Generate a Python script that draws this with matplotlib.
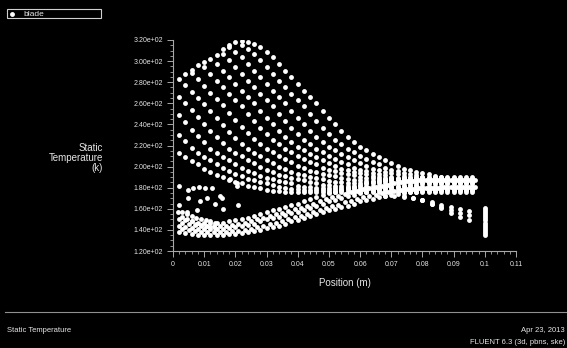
import numpy as np
import matplotlib
matplotlib.use("Agg")
import matplotlib.pyplot as plt
from matplotlib.lines import Line2D
from matplotlib.patches import Rectangle
from matplotlib.ticker import MultipleLocator, AutoMinorLocator, FuncFormatter

plt.rcParams['font.family'] = ['Liberation Sans', 'DejaVu Sans']

# chordwise node positions (m)
x_nodes = [0.002, 0.004, 0.006, 0.008, 0.010, 0.012, 0.014, 0.016, 0.018, 0.020, 0.022, 0.024,
           0.026, 0.028, 0.030, 0.032, 0.034, 0.036, 0.038, 0.040, 0.042, 0.044, 0.046, 0.048,
           0.050, 0.052, 0.054, 0.056, 0.058, 0.060, 0.062, 0.064, 0.066, 0.068, 0.070, 0.072,
           0.074, 0.076, 0.078, 0.080, 0.082, 0.084, 0.086, 0.088, 0.090, 0.092, 0.094, 0.096]
x_mid = [0.003, 0.005, 0.007, 0.009, 0.011, 0.013, 0.015, 0.017, 0.019, 0.021, 0.023, 0.025,
         0.027, 0.029, 0.031, 0.033, 0.035, 0.037, 0.039, 0.041, 0.043, 0.045, 0.047, 0.049,
         0.051, 0.053, 0.055, 0.057, 0.059, 0.061, 0.063, 0.065, 0.067, 0.069, 0.071, 0.073,
         0.075, 0.077, 0.079, 0.081, 0.083, 0.085, 0.087, 0.089, 0.091, 0.093, 0.095, 0.097]
N = None

# hot side of the blade: static temperature (K), one list per span station
hot_0 = [283, 288, 292, 296, 299, 302, 306, 311, 315, 318, 319, 318, 316, 313, 309, 304, 297, 291,
         285, 278, 272, 266, 260, 253, 246, 240, 234, 228, 223, 219, 216, 212, 209, 206, 203, 201,
         198, 197, 195, 194, 193, 191, 190, 189, 189, 188, 188, 188]
hot_1 = [N, N, N, N, N, N, N, N, N, N, 315, 311, 307, 301, 294, 288, 281, 275, 269, 263, 257, 250,
         243, 237, 231, 225, 221, 217, 214, 210, 207, 204, 202, 199, 197, 196, 194, 193, 192, 190,
         189, 189, 188, 188, 188, 188, 188, 188]
hot_2 = [N, N, N, N, N, N, N, N, 313, 309, 304, 297, 291, 285, 278, 272, 266, 260, 253, 246, 240,
         234, 228, 223, 219, 216, 212, 209, 206, 203, 201, 198, 197, 195, 194, 193, 191, 190, 189,
         189, 188, 188, 188, 188, 188, 188, 188, 188]
hot_3 = [N, N, N, N, N, N, N, 307, 301, 294, 288, 281, 275, 269, 263, 257, 250, 243, 237, 231, 225,
         221, 217, 214, 210, 207, 204, 202, 199, 197, 196, 194, 193, 192, 190, 189, 189, 188, 188,
         188, 188, 188, 188, 188, 188, 188, 188, 188]
hot_4 = [N, N, N, N, N, N, 297, 291, 285, 278, 272, 266, 260, 253, 246, 240, 234, 228, 223, 219,
         216, 212, 209, 206, 203, 201, 198, 197, 195, 194, 193, 191, 190, 189, 189, 188, 188, 188,
         188, 188, 188, 188, 188, 188, 188, 188, 188, 188]
hot_5 = [N, N, N, N, 294, 288, 281, 275, 269, 263, 257, 250, 243, 237, 231, 225, 221, 217, 214, 210,
         207, 204, 202, 199, 197, 196, 194, 193, 192, 190, 189, 189, 188, 188, 188, 188, 188, 188,
         188, 188, 188, 188, 188, 188, 188, 188, 188, 188]
hot_6 = [N, N, 289, 283, 276, 270, 264, 258, 251, 244, 238, 232, 226, 221, 217, 214, 210, 207, 204,
         201, 199, 196, 195, 193, 192, 191, 189, 188, 187, 187, 186, 186, 186, 186, 186, 186, 186,
         186, 186, 186, 186, 186, 186, 186, 186, 186, 186, 186]
hot_7 = [N, 277, 271, 265, 259, 253, 246, 239, 233, 227, 221, 217, 213, 210, 206, 203, 200, 198, 195,
         193, 192, 190, 189, 188, 186, 185, 185, 184, 184, 184, 184, 184, 184, 184, 184, 184, 184,
         184, 184, 184, 184, 184, 184, 184, 184, 184, 184, 184]
hot_8 = [266, 260, 254, 247, 240, 234, 228, 222, 217, 213, 210, 206, 203, 200, 197, 195, 192, 191,
         189, 188, 187, 185, 184, 183, 183, 182, 182, 182, 182, 182, 182, 182, 182, 182, 182, 182,
         182, 182, 182, 182, 182, 182, 182, 182, 182, 182, 182, 182]
hot_9 = [249, 242, 235, 229, 223, 217, 213, 209, 206, 202, 199, 196, 194, 191, 189, 188, 186, 185,
         184, 182, 181, 181, 180, 180, 180, 180, 180, 180, 180, 180, 180, 180, 180, 180, 180, 180,
         180, 180, 180, 180, 180, 180, 180, 180, 180, 180, 180, 180]
hot_10 = [230, 224, 218, 213, 209, 206, 202, 199, 196, 193, 191, 188, 187, 185, 184, 183, 181, 180,
          179, 179, 178, 178, 178, 178, 178, 178, 178, 178, 178, 178, 178, 178, 178, 178, 178, 178,
          178, 178, 178, 178, 178, 178, 178, 178, 178, 178, 178, 178]
hot_11 = [213, 209, 205, 202, 198, 195, 192, 190, 187, 185, 184, 182, 181, 180, 178, 177, 177, 176,
          176, 176, 176, 176, 176, 176, 176, 176, 176, 176, 176, 176, 176, 176, 176, 176, 176, 176,
          176, 176, 176, 176, 176, 176, 176, 176, 176, 176, 176, 176]

# cold side of the blade (dense band), top to bottom
cold_1 = [150, 149, 148, 147, 147, 147, 147, 147, 148, 149, 150, 151, 153, 155, 157, 159, 160, 162,
          164, 165, 167, 169, 171, 173, 175, 176, 178, 180, 181, 183, 184, 185, 186, 187, 188, 188,
          189, 189, 190, 190, 190, 190, 190, 190, 190, 190, 190, 190]
cold_2 = [147, 146, 145, 144, 144, 144, 144, 144, 145, 146, 147, 148, 150, 151, 153, 155, 156, 158,
          160, 161, 163, 165, 167, 169, 171, 172, 174, 176, 177, 179, 180, 181, 182, 183, 184, 185,
          186, 186, 187, 187, 187, 187, 187, 187, 187, 187, 187, 187]
cold_3 = [144, 143, 142, 141, 141, 141, 141, 141, 142, 143, 144, 145, 146, 148, 150, 151, 152, 154,
          156, 157, 159, 161, 163, 165, 167, 168, 170, 172, 173, 175, 176, 177, 179, 180, 181, 181,
          182, 183, 183, 184, 184, 184, 184, 184, 184, 184, 184, 184]
cold_4 = [141, 140, 139, 138, 138, 138, 138, 138, 139, 139, 140, 141, 143, 144, 146, 147, 148, 150,
          152, 153, 155, 157, 159, 161, 163, 164, 166, 167, 169, 171, 172, 173, 175, 176, 177, 178,
          179, 179, 180, 180, 180, 180, 181, 181, 181, 181, 181, 181]
cold_5 = [138, 137, 136, 135, 135, 135, 135, 135, 136, 136, 137, 138, 139, 140, 142, 143, 144, 146,
          148, 149, 151, 153, 155, 157, 159, 160, 162, 163, 165, 167, 168, 169, 171, 172, 173, 174,
          175, 176, 176, 177, 177, 177, 178, 178, 178, 178, 178, 178]

# trailing-edge rows dropping below the band
tail_x = [0.068, 0.071, 0.074, 0.077, 0.080, 0.083, 0.086, 0.089, 0.092, 0.095]
tail_1 = [172, 172, 171, 170, 168, 166, 164, 162, 160, 158]
tail_2 = [N, N, 172, 170, 168, 165, 162, 159, 156, 154]
tail_3 = [N, N, N, N, 168, 165, 161, 156, 152, 149]

# leading-edge curves
le_x = [0.003, 0.0045, 0.006, 0.0075, 0.009, 0.0105, 0.012, 0.0135]
le_1 = [157, 155, 153, 151, 150, 149, 148, 147]
le_2 = [152, 150, 148, 146, 145, 144, 143, 142]

# loose nodes near the leading edge
loose_x = [0.0020, 0.0020, 0.0049, 0.0065, 0.0084, 0.0103, 0.0124, 0.0049, 0.0087, 0.0110,
           0.0135, 0.0151, 0.0156, 0.0183, 0.0204, 0.0206, 0.0209, 0.0044, 0.0076, 0.0161,
           0.0017]
loose_t = [182, 164, 178, 180, 181, 180, 180, 170, 167, 170,
           165, 172, 170, 188, 184, 182, 164, 157, 159, 160,
           157]

# trailing edge face
te_x = 0.1
te_t = [135, 137, 139, 141, 143, 145, 147, 149, 151, 153, 155, 157, 159, 161]

fg = '#e6e6e6'
axis_col = '#a8a8a8'

fig = plt.figure(figsize=(5.67, 3.48), dpi=100, facecolor='black')
ax = fig.add_axes([173 / 567, 1 - 251 / 348, 343 / 567, 211 / 348], facecolor='black')

dot = dict(ls='none', marker='o', ms=3.5, mew=0, color='white')

for row in [hot_0, hot_1, hot_2, hot_3, hot_4, hot_5, hot_6, hot_7, hot_8, hot_9, hot_10, hot_11,
            cold_1, cold_3, cold_5]:
    ax.plot(x_nodes, np.array(row, dtype=float), **dot)
for row in [cold_2, cold_4]:
    ax.plot(x_mid, np.array(row, dtype=float), **dot)
for row in [tail_1, tail_2, tail_3]:
    ax.plot(tail_x, np.array(row, dtype=float), **dot)
ax.plot(le_x, le_1, **dot)
ax.plot(le_x, le_2, **dot)
ax.plot(loose_x, loose_t, **dot)
ax.plot([te_x] * len(te_t), te_t, **dot)

ax.set_xlim(0, 0.11)
ax.set_ylim(120, 320)
ax.xaxis.set_major_locator(MultipleLocator(0.01))
ax.xaxis.set_minor_locator(AutoMinorLocator(5))
ax.yaxis.set_major_locator(MultipleLocator(20))
ax.yaxis.set_minor_locator(AutoMinorLocator(4))
ax.xaxis.set_major_formatter(FuncFormatter(lambda v, p: '0' if abs(v) < 1e-9 else '%g' % round(v, 3)))
ax.yaxis.set_major_formatter(FuncFormatter(lambda v, p: '%.2e' % v))

for s in ['top', 'right']:
    ax.spines[s].set_visible(False)
for s in ['left', 'bottom']:
    ax.spines[s].set_color(axis_col)
    ax.spines[s].set_linewidth(0.8)
ax.tick_params(which='major', length=4.5, width=0.7, color=axis_col, labelcolor=fg,
               labelsize=5, pad=2.5)
ax.tick_params(which='minor', length=2.2, width=0.6, color=axis_col)

fig.text(344.5 / 567, 1 - 283 / 348, 'Position (m)', color=fg, fontsize=7,
         ha='center', va='center')
fig.text(103 / 567, 1 - 158 / 348, 'Static\nTemperature\n(k)', color=fg, fontsize=7,
         ha='right', va='center', multialignment='right', linespacing=1.0)

# legend box
fig.add_artist(Rectangle((6.7 / 567, 1 - 18.3 / 348), 94.3 / 567, 9 / 348,
                         transform=fig.transFigure, fill=False, ec='#d0d0d0', lw=0.8))
fig.add_artist(Line2D([12.3 / 567], [1 - 14 / 348], transform=fig.transFigure, **dot))
fig.text(23.3 / 567, 1 - 14 / 348, 'blade', color=fg, fontsize=6, va='center')

# footer
fig.add_artist(Line2D([5 / 567, 1], [1 - 312 / 348, 1 - 312 / 348],
                      transform=fig.transFigure, color='#909090', lw=0.8))
fig.text(7 / 567, 1 - 330 / 348, 'Static Temperature', color=fg, fontsize=5.5, va='center')
fig.text(565 / 567, 1 - 330 / 348, 'Apr 23, 2013', color=fg, fontsize=5.5,
         ha='right', va='center')
fig.text(565 / 567, 1 - 342 / 348, 'FLUENT 6.3 (3d, pbns, ske)', color=fg, fontsize=5.5,
         ha='right', va='center')

fig.savefig('out.png', dpi=100, facecolor='black')
plt.close('all')
